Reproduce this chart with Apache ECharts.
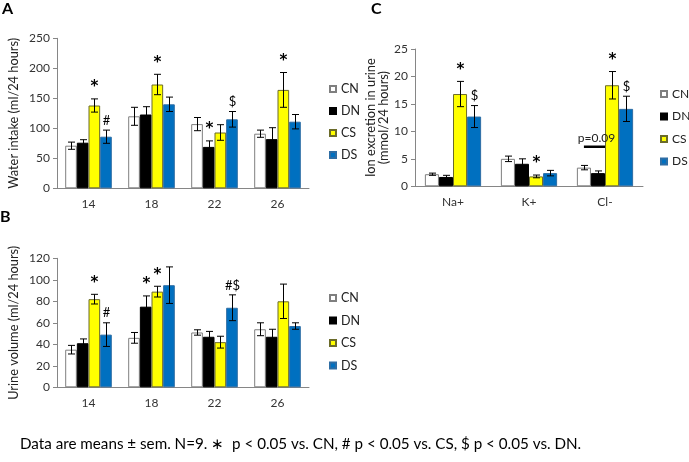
<!DOCTYPE html>
<html>
<head>
<meta charset="utf-8">
<script src="https://cdn.jsdelivr.net/npm/echarts@6/dist/echarts.min.js"></script>
<style>
  html, body { margin: 0; padding: 0; background: #fff; }
  #chart { width: 689px; height: 462px; }
</style>
</head>
<body>
<div id="chart"></div>
<script>
// groups and categories
const groups = ['CN', 'DN', 'CS', 'DS'];
const weeks = ['14', '18', '22', '26'];
const ions = ['Na+', 'K+', 'Cl-'];

// A: water intake (ml/24 hours), one row per group
const waterMean = [
  [71, 120, 107, 91],
  [76, 123, 69, 82],
  [138, 173, 93, 164],
  [86, 140, 115, 111]
];
const waterErr = [
  [6, 15, 11, 6],
  [5, 13, 10, 19],
  [11, 17, 13, 29],
  [11, 12, 13, 12]
];
const waterNotes = [
  ['', '', '', ''],
  ['', '', '*', ''],
  ['*', '*', '', '*'],
  ['#', '', '$', '']
];

// B: urine volume (ml/24 hours)
const urineMean = [
  [35, 46, 51, 54],
  [41, 75, 47, 47],
  [82, 89, 42, 80],
  [49, 95, 74, 57]
];
const urineErr = [
  [4, 5, 2.5, 6],
  [4, 10, 5, 7],
  [4.5, 5, 5.5, 16],
  [11, 17, 12, 3]
];
const urineNotes = [
  ['', '', '', ''],
  ['', '*', '', ''],
  ['*', '*', '', ''],
  ['#', '', '#$', '']
];

// C: ion excretion in urine (mmol/24 hours)
const ionMean = [
  [2.2, 5.0, 3.4],
  [1.7, 4.1, 2.4],
  [16.8, 1.8, 18.4],
  [12.7, 2.4, 14.1]
];
const ionErr = [
  [0.2, 0.5, 0.4],
  [0.3, 0.9, 0.4],
  [2.3, 0.25, 2.5],
  [2.0, 0.5, 2.3]
];
const ionNotes = [
  ['', '', ''],
  ['', '', ''],
  ['*', '*', '*'],
  ['$', '', '$']
];
// bracket between CN and DN for Cl-
const pCat = 2;
const pLevel = 7.2;
const pText = 'p=0.09';

const colors = ['#ffffff', '#000000', '#ffff00', '#0070c0'];
const borders = ['#7f7f7f', '#000000', '#6b6b2a', '#2e6da4'];
const FONT = 'Lato';
const GAP = 0.26;

const chart = echarts.init(document.getElementById('chart'));

function barSeries(axis, means) {
  return groups.map((g, i) => ({
    name: g,
    type: 'bar',
    xAxisIndex: axis,
    yAxisIndex: axis,
    data: means[i],
    barGap: '0%',
    barCategoryGap: (GAP * 100) + '%',
    itemStyle: { color: colors[i], borderColor: borders[i], borderWidth: 1 },
    silent: true
  }));
}

function errSeries(axis, means, errs, notes) {
  const data = [];
  means.forEach((row, g) => row.forEach((v, c) => data.push([c, g, v, errs[g][c]])));
  return {
    type: 'custom',
    xAxisIndex: axis,
    yAxisIndex: axis,
    z: 10,
    silent: true,
    data: data,
    encode: { x: 0, y: 2 },
    renderItem(params, api) {
      const c = api.value(0), g = api.value(1), v = api.value(2), e = api.value(3);
      const bw = api.size([1, 0])[0] * (1 - GAP) / 4;
      const x = Math.round(api.coord([c, v])[0] + (g - 1.5) * bw) + 0.5;
      const yt = api.coord([c, v + e])[1];
      const yb = api.coord([c, v - e])[1];
      const st = { stroke: '#000', lineWidth: 1 };
      const kids = [
        { type: 'line', shape: { x1: x, y1: yt, x2: x, y2: yb }, style: st },
        { type: 'line', shape: { x1: x - 3.5, y1: yt, x2: x + 3.5, y2: yt }, style: st },
        { type: 'line', shape: { x1: x - 3.5, y1: yb, x2: x + 3.5, y2: yb }, style: st }
      ];
      const note = notes[g][c];
      if (note) {
        const star = note === '*';
        kids.push({
          type: 'text',
          style: {
            text: note, x: x, y: star ? yt - 4 : yt - 3,
            align: 'center', verticalAlign: 'bottom',
            font: star ? 'bold 15px "DejaVu Sans"' : '13px ' + FONT, fill: '#000'
          }
        });
      }
      return { type: 'group', children: kids };
    }
  };
}

function pSeries() {
  return {
    type: 'custom',
    xAxisIndex: 2,
    yAxisIndex: 2,
    z: 11,
    silent: true,
    data: [[pCat, pLevel]],
    renderItem(params, api) {
      const bw = api.size([1, 0])[0] * (1 - GAP) / 4;
      const p = api.coord([api.value(0), api.value(1)]);
      const x1 = p[0] - 1.5 * bw, x2 = p[0];
      return {
        type: 'group',
        children: [
          { type: 'line', shape: { x1: x1, y1: p[1], x2: x2, y2: p[1] }, style: { stroke: '#000', lineWidth: 2.5 } },
          { type: 'text', style: { text: pText, x: (x1 + x2) / 2 + 2, y: p[1] - 3, align: 'center', verticalAlign: 'bottom', font: '12px ' + FONT, fill: '#222' } }
        ]
      };
    }
  };
}

const axisGrey = '#868686';
function xAx(grid, cats) {
  return {
    type: 'category', gridIndex: grid, data: cats,
    axisLine: { lineStyle: { color: axisGrey } },
    axisTick: { length: 4, lineStyle: { color: axisGrey } },
    axisLabel: { color: '#333', fontFamily: FONT, fontSize: 12, margin: 10 }
  };
}
function yAx(grid, max, interval, name, gap) {
  return {
    type: 'value', gridIndex: grid, min: 0, max: max, interval: interval,
    name: name, nameLocation: 'middle', nameGap: gap,
    nameTextStyle: { color: '#222', fontFamily: FONT, fontSize: 12.8, lineHeight: 13 },
    axisLine: { show: true, lineStyle: { color: axisGrey } },
    axisTick: { show: true, length: 4, lineStyle: { color: axisGrey } },
    splitLine: { show: false },
    axisLabel: { color: '#333', fontFamily: FONT, fontSize: 12, margin: 7 }
  };
}
function legend(left, top, gap, size) {
  return {
    data: groups, orient: 'vertical', left: left, top: top, padding: 0, width: 60,
    icon: 'rect', itemWidth: 6, itemHeight: 6, itemGap: gap, selectedMode: false,
    textStyle: { color: '#222', fontFamily: FONT, fontSize: size, lineHeight: 14 }
  };
}

const option = {
  animation: false,
  backgroundColor: '#fff',
  grid: [
    { left: 57, top: 38.3, width: 252, height: 150 },
    { left: 57, top: 258.3, width: 252, height: 129 },
    { left: 415, top: 49, width: 228, height: 137.3 }
  ],
  xAxis: [xAx(0, weeks), xAx(1, weeks), xAx(2, ions)],
  yAxis: [
    yAx(0, 250, 50, 'Water intake (ml/24 hours)', 37),
    yAx(1, 120, 20, 'Urine volume (ml/24 hours)', 37),
    yAx(2, 25, 5, 'Ion excretion in urine\n(mmol/24 hours)', 20)
  ],
  legend: [legend(329, 82, 8, 12.5), legend(329, 291, 8.5, 12.5), legend(660, 87, 8.5, 12)],
  series: [
    ...barSeries(0, waterMean), errSeries(0, waterMean, waterErr, waterNotes),
    ...barSeries(1, urineMean), errSeries(1, urineMean, urineErr, urineNotes),
    ...barSeries(2, ionMean), errSeries(2, ionMean, ionErr, ionNotes),
    pSeries()
  ],
  graphic: [
    { type: 'text', left: 2, top: 1, style: { text: 'A', font: 'bold 16px ' + FONT, fill: '#000' } },
    { type: 'text', left: 0, top: 209, style: { text: 'B', font: 'bold 16px ' + FONT, fill: '#000' } },
    { type: 'text', left: 371, top: 1, style: { text: 'C', font: 'bold 16px ' + FONT, fill: '#000' } },
    { type: 'text', left: 20, top: 437, style: { text: 'Data are means \u00b1 sem. N=9. \u2217  p < 0.05 vs. CN, # p < 0.05 vs. CS, $ p < 0.05 vs. DN.', font: '15.2px ' + FONT, fill: '#000' } }
  ]
};
chart.setOption(option);
</script>
</body>
</html>
